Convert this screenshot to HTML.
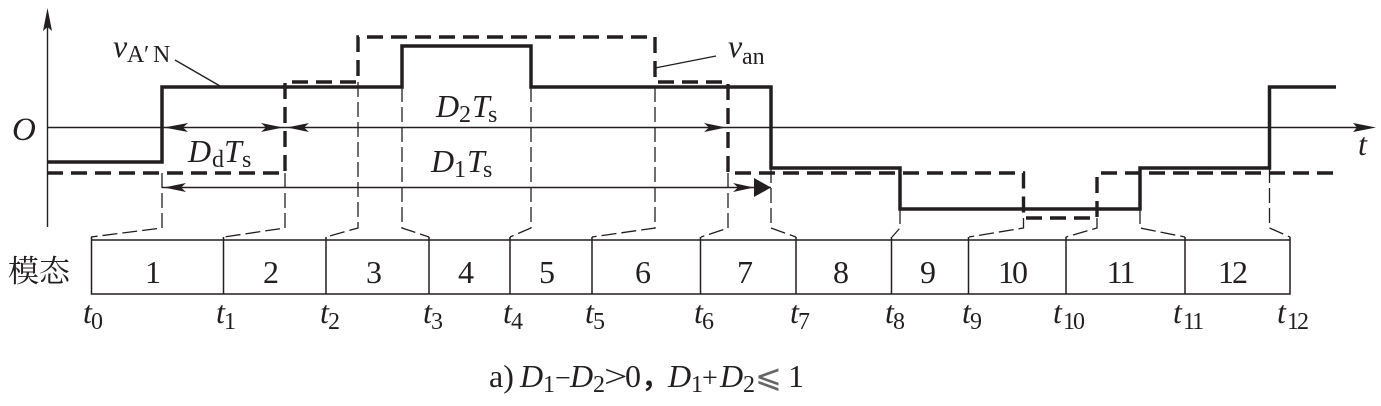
<!DOCTYPE html>
<html><head><meta charset="utf-8">
<style>
html,body{margin:0;padding:0;background:#fff;width:1381px;height:406px;overflow:hidden}
svg{display:block;filter:blur(0.35px)}
text{font-family:"Liberation Serif","Noto Serif CJK SC",serif;font-size:32px;fill:#231f20}
.i{font-style:italic}
.s{font-size:24px}
.n{letter-spacing:-2px}
.m{text-anchor:middle}
</style></head><body>
<svg width="1381" height="406" viewBox="0 0 1381 406">
<g fill="none" stroke="#231f20">
<path d="M47.500 20V227M47 127.500H1368" stroke-width="1.4"/>
<g stroke-width="1.3" stroke-dasharray="15 5">
<path d="M162 173V228L91 237"/>
<path d="M285 173V228L224 237"/>
<path d="M358 82V228L326 237"/>
<path d="M402 87V228L429 237"/>
<path d="M531 87V228L510 237"/>
<path d="M655 87V228L592 237"/>
<path d="M728 173V228L701 237"/>
<path d="M771 168V228L796 237"/>
<path d="M900 209V228L892 237"/>
<path d="M1023.500 218V228L969 237"/>
<path d="M1097 218V228L1066 237"/>
<path d="M1140 209V228L1185 237"/>
<path d="M1269.500 168V228L1290 237"/>
</g>
<path d="M91.500 240H1290V294H91.500ZM223.500 240V294M326 240V294M429 240V294M510 240V294M592 240V294M700.500 240V294M796 240V294M891.500 240V294M968.500 240V294M1066 240V294M1185 240V294M91.500 237V240M223.500 237V240M326 237V240M429 237V240M510 237V240M592 237V240M700.500 237V240M796 237V240M891.500 237V240M968.500 237V240M1066 237V240M1185 237V240M1290 237V240" stroke-width="1.5"/>
<path d="M47 173H285V82H358V37H655V82H728V173H1023.500V218H1097V173H1336" stroke-width="3.4" stroke-dasharray="16 8"/>
<path d="M47 162H162V87H402V46H531V87H771V168H900V209H1140V168H1269.500V87H1336" stroke-width="3.500"/>
<path d="M175 60L220 86M655 68L716 56" stroke-width="1.4"/>
<path d="M162 187.500H771" stroke-width="1.600"/>
</g>
<g fill="#231f20">
<path d="M47.500 8L52 31L47.500 27L43 31Z"/>
<path d="M1376 127.500L1353 123L1357 127.500L1353 132Z"/>
<path d="M164 127.500L188 123L183 127.500L188 132Z"/>
<path d="M283 127.500L261 123L266 127.500L261 132Z"/>
<path d="M287 127.500L309 123L304 127.500L309 132Z"/>
<path d="M726 127.500L704 123L709 127.500L704 132Z"/>
<path d="M164 187.500L186 183L181 187.500L186 192Z"/>
<path d="M771 187.500L754 178L754 197Z"/>
<path d="M754 187.500L733 183L738 187.500L733 192Z"/>
</g>
<text class="i" x="113" y="57">v</text><text class="s" x="127" y="62">A</text><text class="s" x="144" y="62">′</text><text class="s" x="153" y="62">N</text>
<text class="i" x="728" y="57">v</text><text class="s" x="742" y="64">an</text>
<text class="i" x="12" y="140" style="font-size:33px">O</text>
<text class="i" x="1358" y="155">t</text>
<text class="i" x="188" y="162">D</text><text class="s" x="212" y="167">d</text><text class="i" x="224" y="162">T</text><text class="s" x="242" y="167">s</text>
<text class="i" x="436" y="117">D</text><text class="s" x="459" y="122">2</text><text class="i" x="472" y="117">T</text><text class="s" x="488" y="122">s</text>
<text class="i" x="431" y="172">D</text><text class="s" x="454" y="177">1</text><text class="i" x="467" y="172">T</text><text class="s" x="483" y="177">s</text>
<text x="8" y="282" style="font-size:31px">模态</text>
<text class="m" x="153" y="283">1</text><text class="m" x="271" y="283">2</text><text class="m" x="374" y="283">3</text><text class="m" x="466" y="283">4</text><text class="m" x="547" y="283">5</text><text class="m" x="643" y="283">6</text><text class="m" x="745" y="283">7</text><text class="m" x="841" y="283">8</text><text class="m" x="928" y="283">9</text><text class="m n" x="1012" y="283">10</text><text class="m n" x="1120" y="283">11</text><text class="m n" x="1232" y="283">12</text>
<text class="i" x="83" y="323">t</text><text class="s" x="91" y="329">0</text>
<text class="i" x="216" y="323">t</text><text class="s" x="224" y="329">1</text>
<text class="i" x="320" y="323">t</text><text class="s" x="328" y="329">2</text>
<text class="i" x="423" y="323">t</text><text class="s" x="431" y="329">3</text>
<text class="i" x="503" y="323">t</text><text class="s" x="511" y="329">4</text>
<text class="i" x="585" y="323">t</text><text class="s" x="593" y="329">5</text>
<text class="i" x="694" y="323">t</text><text class="s" x="702" y="329">6</text>
<text class="i" x="790" y="323">t</text><text class="s" x="798" y="329">7</text>
<text class="i" x="885" y="323">t</text><text class="s" x="893" y="329">8</text>
<text class="i" x="962" y="323">t</text><text class="s" x="970" y="329">9</text>
<text class="i" x="1053" y="323">t</text><text class="s n" x="1063" y="329">10</text>
<text class="i" x="1173" y="323">t</text><text class="s n" x="1183" y="329">11</text>
<text class="i" x="1277" y="323">t</text><text class="s n" x="1287" y="329">12</text>
<text x="489" y="387">a)</text>
<text class="i" x="520" y="387">D</text><text class="s" x="543" y="392">1</text><text x="555" y="387" style="font-size:28px">−</text>
<text class="i" x="570" y="387">D</text><text class="s" x="593" y="392">2</text><text transform="translate(604,387) scale(1.3,1)">&gt;</text><text x="625" y="387">0</text>
<text x="641" y="387" style="font-family:'Noto Sans CJK SC',sans-serif;font-weight:700;font-size:28px">，</text>
<text class="i" x="668" y="387">D</text><text class="s" x="691" y="392">1</text><text x="702" y="387" style="font-size:28px">+</text>
<text class="i" x="720" y="387">D</text><text class="s" x="743" y="392">2</text>
<text x="755" y="387" style="font-family:'DejaVu Sans',sans-serif;font-size:32px;fill:#666">⩽</text><text x="788" y="387">1</text>
</svg>
</body></html>
